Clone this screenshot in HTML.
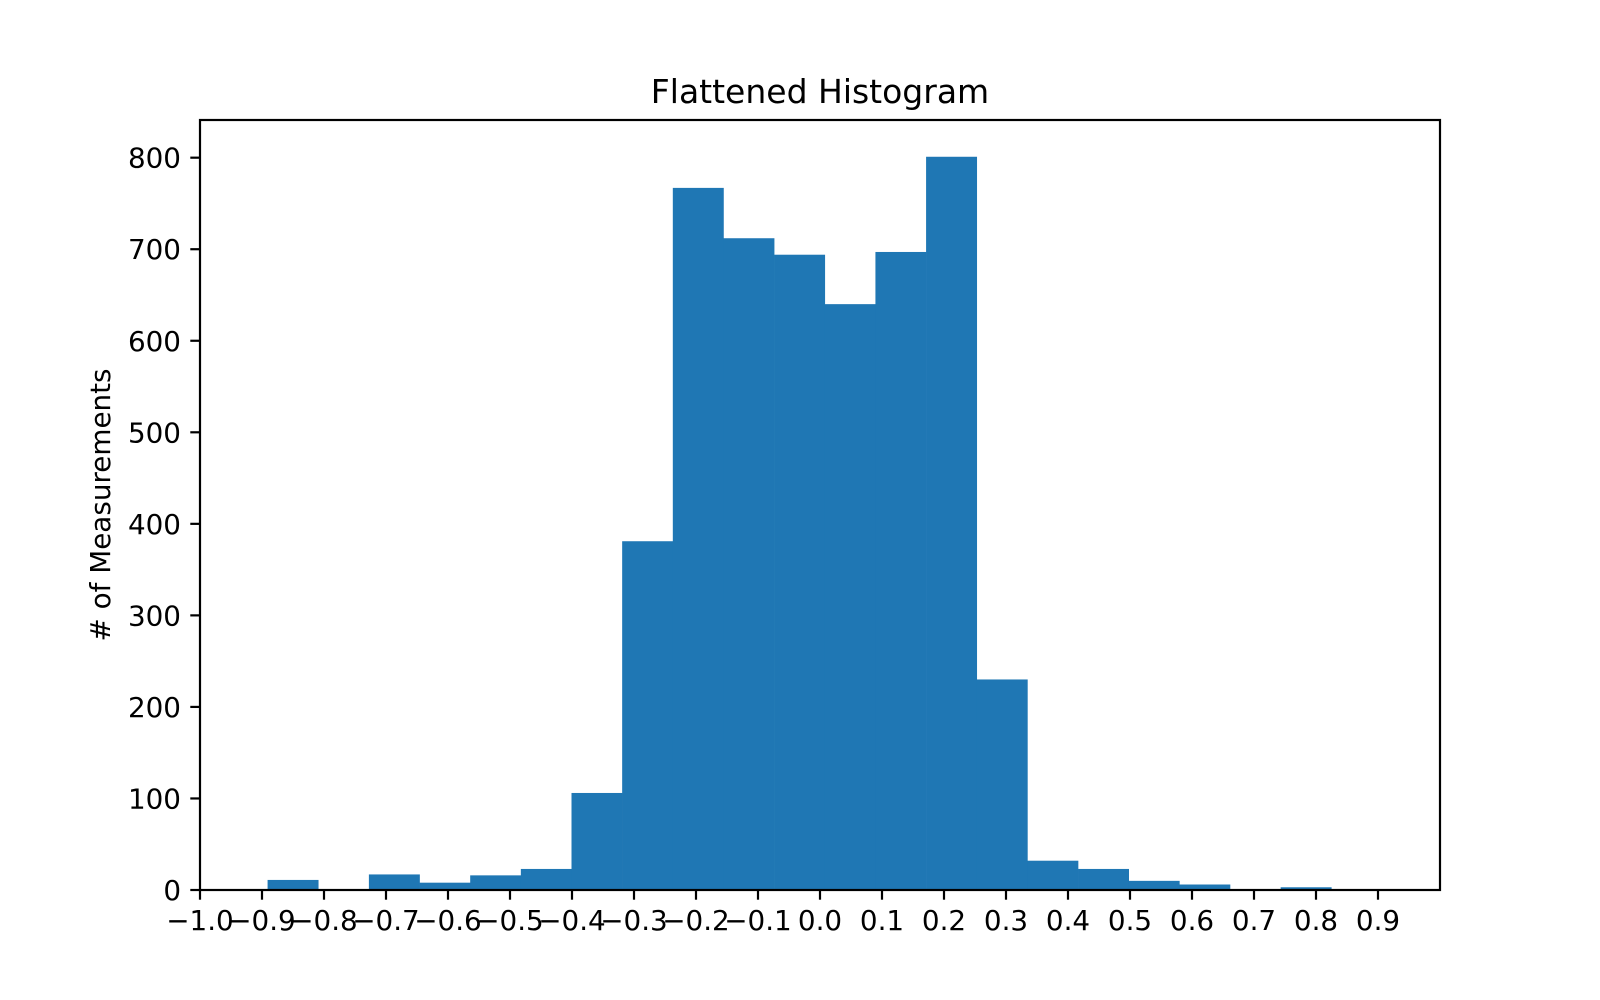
<!DOCTYPE html>
<html><head><meta charset="utf-8"><style>
html,body{margin:0;padding:0;background:#fff;}
svg{display:block;font-family:"DejaVu Sans","Liberation Sans",sans-serif;}
</style></head><body>
<svg id="chart" width="1600" height="1000" viewBox="0 0 1600 1000" xmlns="http://www.w3.org/2000/svg">
<rect width="1600" height="1000" fill="#fff"/>
<text x="820" y="103" font-size="33" text-anchor="middle">Flattened Histogram</text>
<text transform="translate(110,505) rotate(-90)" font-size="27.8" text-anchor="middle"># of Measurements</text>
<g id="bars"></g>
<g id="ticks"></g>
<rect x="200" y="120" width="1240" height="770" fill="none" stroke="#000" stroke-width="2.2"/>
</svg>
<script>
const binStart = -0.891;
const binWidth = 0.0817;
const counts = [11, 0, 17, 8, 16, 23, 106, 381, 767, 712, 694, 640, 697, 801, 230, 32, 23, 10, 6, 0, 3];
const xTicks = [-1.0,-0.9,-0.8,-0.7,-0.6,-0.5,-0.4,-0.3,-0.2,-0.1,0.0,0.1,0.2,0.3,0.4,0.5,0.6,0.7,0.8,0.9];
const yTicks = [0,100,200,300,400,500,600,700,800];

const NS='http://www.w3.org/2000/svg';
const xs = v => 200 + (v + 1.0) * 620;
const ys = v => 890 - v * 0.9154;
const bars=document.getElementById('bars');
counts.forEach((c,i)=>{
  if(c<=0) return;
  const x0=xs(binStart+i*binWidth), x1=xs(binStart+(i+1)*binWidth);
  const r=document.createElementNS(NS,'rect');
  
  
  r.setAttribute('x',x0);r.setAttribute('width',x1-x0+0.3);
  r.setAttribute('y',ys(c));r.setAttribute('height',890-ys(c));
  r.setAttribute('fill','#1f77b4');
  bars.appendChild(r);
});
const tk=document.getElementById('ticks');
xTicks.forEach(t=>{
  const x=xs(t);
  const l=document.createElementNS(NS,'line');
  
  
  l.setAttribute('x1',x);l.setAttribute('x2',x);l.setAttribute('y1',890);l.setAttribute('y2',899.7);
  l.setAttribute('stroke','#000');l.setAttribute('stroke-width','2.2');
  tk.appendChild(l);
  const s=document.createElementNS(NS,'text');
  
  
  s.setAttribute('x',x);s.setAttribute('y',930);
  s.setAttribute('font-size','27.8');s.setAttribute('text-anchor','middle');
  s.textContent=(t<0?'\u2212':'')+Math.abs(t).toFixed(1);
  tk.appendChild(s);
});
yTicks.forEach(t=>{
  const y=ys(t);
  const l=document.createElementNS(NS,'line');
  
  
  l.setAttribute('x1',190.3);l.setAttribute('x2',200);l.setAttribute('y1',y);l.setAttribute('y2',y);
  l.setAttribute('stroke','#000');l.setAttribute('stroke-width','2.2');
  tk.appendChild(l);
  const s=document.createElementNS(NS,'text');
  
  
  s.setAttribute('x',181);s.setAttribute('y',y+10);
  s.setAttribute('font-size','27.8');s.setAttribute('text-anchor','end');
  s.textContent=String(t);
  tk.appendChild(s);
});
</script>
</body></html>
